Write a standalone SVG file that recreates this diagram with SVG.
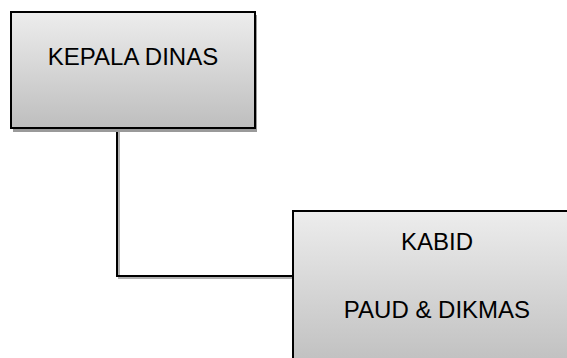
<svg xmlns="http://www.w3.org/2000/svg" width="567" height="358" viewBox="0 0 567 358">
  <defs>
    <linearGradient id="boxFill" x1="0" y1="0" x2="0" y2="1">
      <stop offset="0" stop-color="#ededed"/>
      <stop offset="1" stop-color="#bebebe"/>
    </linearGradient>
  </defs>
  <style>
    .shadow { fill: #9a9a9a; }
    .box { fill: url(#boxFill); stroke: #000; stroke-width: 2; }
    .label { font-family: "Liberation Sans", Arial, sans-serif; font-size: 24px; fill: #000; text-anchor: middle; }
    .link { fill: none; stroke: #000; stroke-width: 2; }
    .link-shadow { fill: none; stroke: #b0b0b0; stroke-width: 2; }
  </style>

  <g id="connectors">
    <polyline class="link-shadow" points="119,130 119,278 294,278"/>
    <polyline class="link" points="117,128 117,276 293,276"/>
  </g>

  <g id="kepala-dinas">
    <rect class="shadow" x="13" y="15" width="244" height="117"/>
    <rect class="box" x="11" y="12" width="244" height="116"/>
    <text class="label" x="133" y="65">KEPALA DINAS</text>
  </g>

  <g id="kabid-paud-dikmas">
    <rect class="shadow" x="296" y="214" width="300" height="160"/>
    <rect class="box" x="293" y="211" width="300" height="160"/>
    <text class="label" x="437" y="250">KABID</text>
    <text class="label" x="437" y="318">PAUD &amp; DIKMAS</text>
  </g>
</svg>
